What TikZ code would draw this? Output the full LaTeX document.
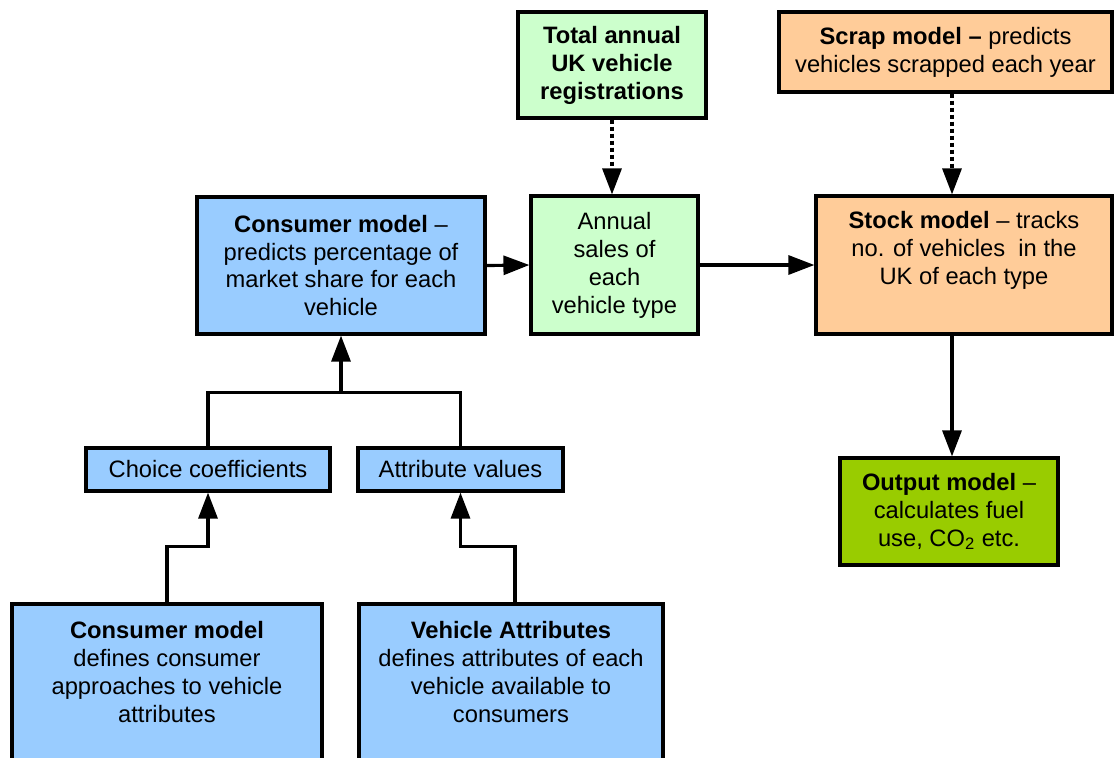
\documentclass[tikz,border=0pt]{standalone}
\usepackage{fontspec}
\setmainfont{Liberation Sans}
\usepackage{tikz}
\usetikzlibrary{arrows.meta}

\definecolor{skyblue}{HTML}{99CCFF}
\definecolor{mintgreen}{HTML}{CCFFCC}
\definecolor{peach}{HTML}{FFCC99}
\definecolor{limegreen}{HTML}{99CC00}

\begin{document}
\begin{tikzpicture}[every node/.style={font=\fontsize{13.5}{15.9}\selectfont}]
    % Styles
    \tikzstyle{box} = [rectangle, draw=black, line width=1.8pt, align=center, inner sep=2pt]
    \tikzstyle{line} = [line width=1.8pt]
    \tikzstyle{arrow} = [line width=1.8pt, -{Triangle[length=0.52cm, width=0.38cm]}]
    \tikzstyle{dotarrow} = [arrow, dash pattern=on 0.08cm off 0.06cm]

    \useasboundingbox (0,0) rectangle (22.34,-15.14);

    % Nodes - top row
    \node[box, fill=mintgreen, minimum width=3.76cm, minimum height=2.12cm] (total) at (12.24,-1.30) {\textbf{Total annual}\\\textbf{UK vehicle}\\\textbf{registrations}};
    \node[box, fill=peach, minimum width=6.66cm, minimum height=1.60cm] (scrap) at (18.91,-1.04) {\textbf{Scrap model \textendash} predicts\\vehicles scrapped each year};

    % Nodes - middle row
    \node[box, fill=skyblue, minimum width=5.76cm, minimum height=2.74cm] (cons) at (6.82,-5.31) {\textbf{Consumer model} \textendash\\predicts percentage of\\market share for each\\vehicle};
    \node[box, fill=mintgreen, minimum width=3.34cm, minimum height=2.76cm] (sales) at (12.29,-5.30) {Annual\\sales of\\each\\vehicle type};
    \node[box, fill=peach, minimum width=5.92cm, minimum height=2.76cm, text depth=0.7cm] (stock) at (19.28,-5.30) {\textbf{Stock model} \textendash{} tracks\\no. of vehicles\ \ in the\\UK of each type};

    % Nodes - inputs
    \node[box, fill=skyblue, minimum width=4.88cm, minimum height=0.86cm] (choice) at (4.16,-9.39) {Choice coefficients};
    \node[box, fill=skyblue, minimum width=4.10cm, minimum height=0.86cm] (attr) at (9.21,-9.39) {Attribute values};
    \node[box, fill=limegreen, minimum width=4.36cm, minimum height=2.14cm] (output) at (18.98,-10.23) {\textbf{Output model} \textendash\\calculates fuel\\use, CO\textsubscript{2} etc.};

    % Nodes - bottom row (cut by the page edge)
    \node[box, fill=skyblue, minimum width=6.20cm, minimum height=3.32cm, text depth=0.62cm] (consdef) at (3.34,-13.74) {\textbf{Consumer model}\\defines consumer\\approaches to vehicle\\attributes};
    \node[box, fill=skyblue, minimum width=6.08cm, minimum height=3.32cm, text depth=0.62cm] (vehattr) at (10.22,-13.74) {\textbf{Vehicle Attributes}\\defines attributes of each\\vehicle available to\\consumers};

    \coordinate (join) at ([yshift=-1.14cm]cons.south);

    % Arrows
    \draw[arrow] (cons.east) -- (sales.west);
    \draw[arrow] (sales.east) -- (sales.east -| stock.west);
    \draw[dotarrow] (total.south) -- (total.south |- sales.north);
    \draw[dotarrow] ([xshift=0.13cm]scrap.south) -- ([xshift=0.13cm]scrap.south |- stock.north);
    \draw[arrow] ([xshift=0.06cm]output.north |- stock.south) -- ([xshift=0.06cm]output.north);
    \draw[line] (choice.north) |- (join) -| (attr.north);
    \draw[arrow] (join) -- (cons.south);
    \draw[arrow] (consdef.north) -- ++(0,1.12) -| (choice.south);
    \draw[arrow] ([xshift=0.08cm]vehattr.north) -- ++(0,1.12) -| (attr.south);
\end{tikzpicture}
\end{document}
